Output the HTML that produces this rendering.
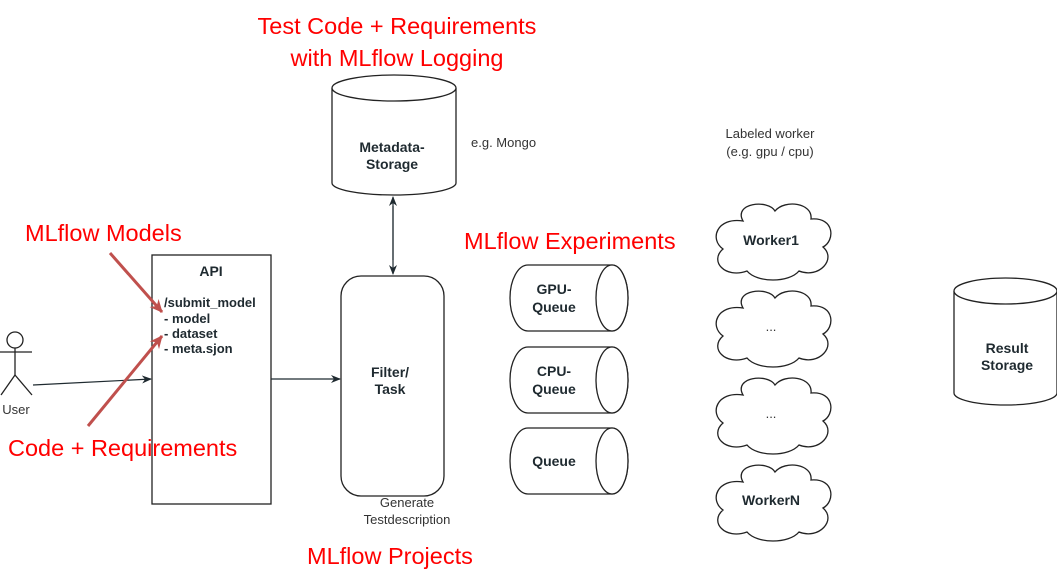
<!DOCTYPE html>
<html><head><meta charset="utf-8"><style>
body{margin:0;background:#fff}
svg{display:block}
.b{font-family:"Liberation Sans",sans-serif;font-weight:bold;font-size:14px;fill:#1f2a30}
.n{font-family:"Liberation Sans",sans-serif;font-size:13px;fill:#333}
.r{font-family:"Liberation Sans",sans-serif;font-size:23.5px;fill:#f00}
</style></head><body>
<svg width="1057" height="576" viewBox="0 0 1057 576" xmlns="http://www.w3.org/2000/svg">
<defs>
<marker id="a" markerWidth="10" markerHeight="10" refX="9" refY="5" orient="auto" markerUnits="userSpaceOnUse"><path d="M0,1 L10,5 L0,9 L3,5 Z" fill="#1f2a30"/></marker>
<marker id="ar" markerWidth="14" markerHeight="14" refX="12" refY="7" orient="auto" markerUnits="userSpaceOnUse"><path d="M0,1 L13,7 L0,13 L4,7 Z" fill="#c0504d"/></marker>
<path id="cl" d="M30,18 C20,0 55,-4 62,8 C72,-4 100,0 98,16 C122,14 122,38 110,44 C124,56 106,76 86,68 C76,80 44,80 34,68 C12,76 -4,58 10,46 C-4,36 4,14 30,18 Z" fill="#fff" stroke="#222" stroke-width="1.3"/>
</defs>
<g fill="#fff" stroke="#222" stroke-width="1.3">
<path d="M332,88 L332,183 A62,12 0 0 0 456,183 L456,88"/>
<ellipse cx="394" cy="88" rx="62" ry="13"/>
<path d="M954,291 L954,393 A51.5,12 0 0 0 1057,393 L1057,291"/>
<ellipse cx="1005.5" cy="291" rx="51.5" ry="13"/>
<rect x="152" y="255" width="119" height="249"/>
<rect x="341" y="276" width="103" height="220" rx="20"/>
<path d="M528,265 L612,265 A16,33 0 0 1 612,331 L528,331 A18,33 0 0 1 528,265 Z"/>
<ellipse cx="612" cy="298" rx="16" ry="33"/>
<path d="M528,347 L612,347 A16,33 0 0 1 612,413 L528,413 A18,33 0 0 1 528,347 Z"/>
<ellipse cx="612" cy="380" rx="16" ry="33"/>
<path d="M528,428 L612,428 A16,33 0 0 1 612,494 L528,494 A18,33 0 0 1 528,428 Z"/>
<ellipse cx="612" cy="461" rx="16" ry="33"/>
</g>
<use href="#cl" transform="translate(713,203)"/>
<use href="#cl" transform="translate(713,290)"/>
<use href="#cl" transform="translate(713,377)"/>
<use href="#cl" transform="translate(713,464)"/>
<g fill="none" stroke="#222" stroke-width="1.3">
<circle cx="15" cy="340" r="8"/>
<line x1="15" y1="348" x2="15" y2="375"/>
<line x1="0" y1="352" x2="32" y2="352"/>
<line x1="15" y1="375" x2="1" y2="395"/>
<line x1="15" y1="375" x2="32" y2="395"/>
</g>
<g stroke="#1f2a30" stroke-width="1.2" fill="none">
<line x1="33" y1="385" x2="151" y2="379" marker-end="url(#a)"/>
<line x1="271" y1="379" x2="340" y2="379" marker-end="url(#a)"/>
<line x1="393" y1="206" x2="393" y2="274" marker-end="url(#a)"/>
<line x1="393" y1="260" x2="393" y2="197" marker-end="url(#a)"/>
</g>
<g stroke="#c0504d" stroke-width="3" fill="none">
<line x1="110" y1="253" x2="162" y2="312" marker-end="url(#ar)"/>
<line x1="88" y1="426" x2="162" y2="336" marker-end="url(#ar)"/>
</g>
<text class="b" x="392" y="152" text-anchor="middle">Metadata-</text>
<text class="b" x="392" y="169" text-anchor="middle">Storage</text>
<text class="b" x="1007" y="353" text-anchor="middle">Result</text>
<text class="b" x="1007" y="370" text-anchor="middle">Storage</text>
<text class="b" x="211" y="276" text-anchor="middle">API</text>
<text class="b" x="164" y="307" style="font-size:13px">/submit_model</text>
<text class="b" x="164" y="323" style="font-size:13px">- model</text>
<text class="b" x="164" y="338" style="font-size:13px">- dataset</text>
<text class="b" x="164" y="353" style="font-size:13px">- meta.sjon</text>
<text class="b" x="390" y="377" text-anchor="middle">Filter/</text>
<text class="b" x="390" y="394" text-anchor="middle">Task</text>
<text class="b" x="554" y="294" text-anchor="middle">GPU-</text>
<text class="b" x="554" y="312" text-anchor="middle">Queue</text>
<text class="b" x="554" y="376" text-anchor="middle">CPU-</text>
<text class="b" x="554" y="394" text-anchor="middle">Queue</text>
<text class="b" x="554" y="466" text-anchor="middle">Queue</text>
<text class="b" x="771" y="245" text-anchor="middle">Worker1</text>
<text class="n" x="771" y="331" text-anchor="middle">...</text>
<text class="n" x="771" y="418" text-anchor="middle">...</text>
<text class="b" x="771" y="505" text-anchor="middle">WorkerN</text>
<text class="n" x="16" y="414" text-anchor="middle">User</text>
<text class="n" x="471" y="147">e.g. Mongo</text>
<text class="n" x="770" y="138" text-anchor="middle">Labeled worker</text>
<text class="n" x="770" y="156" text-anchor="middle">(e.g. gpu / cpu)</text>
<text class="n" x="407" y="507" text-anchor="middle">Generate</text>
<text class="n" x="407" y="524" text-anchor="middle">Testdescription</text>
<text class="r" x="397" y="34" text-anchor="middle">Test Code + Requirements</text>
<text class="r" x="397" y="66" text-anchor="middle">with MLflow Logging</text>
<text class="r" x="25" y="241">MLflow Models</text>
<text class="r" x="464" y="249">MLflow Experiments</text>
<text class="r" x="8" y="456">Code + Requirements</text>
<text class="r" x="307" y="564">MLflow Projects</text>
</svg>
</body></html>
